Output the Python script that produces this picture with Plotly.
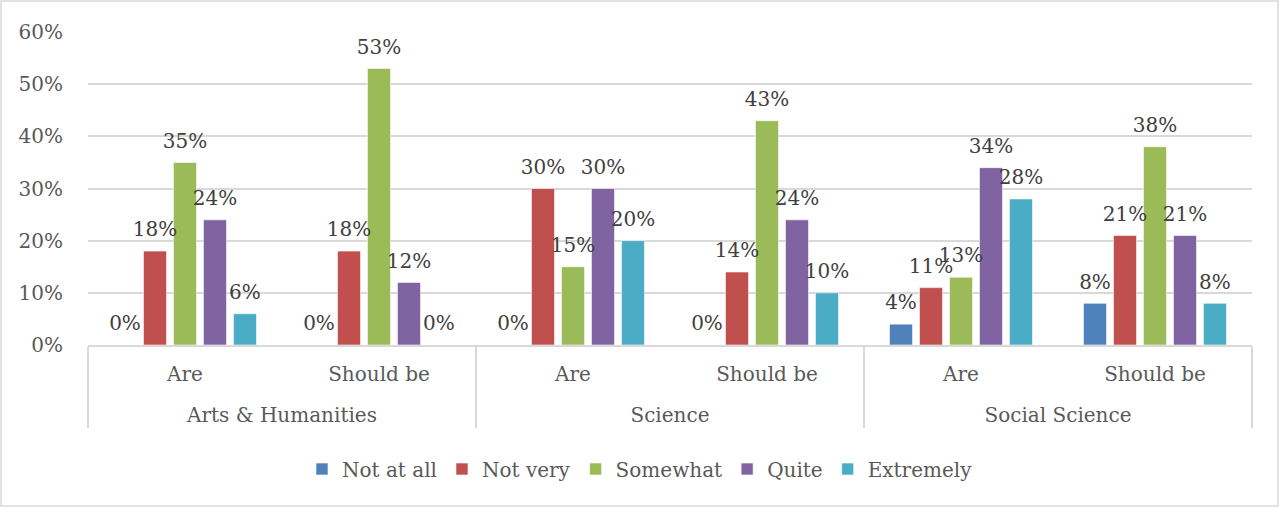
import plotly.graph_objects as go

# Survey responses, percent of respondents
disciplines = ["Arts & Humanities", "Arts & Humanities", "Science", "Science",
               "Social Science", "Social Science"]
framings = ["Are", "Should be", "Are", "Should be", "Are", "Should be"]

not_at_all = [0, 0, 0, 0, 4, 8]
not_very = [18, 18, 30, 14, 11, 21]
somewhat = [35, 53, 15, 43, 13, 38]
quite = [24, 12, 30, 24, 34, 21]
extremely = [6, 0, 20, 10, 28, 8]

series_names = ["Not at all", "Not very", "Somewhat", "Quite", "Extremely"]
series_values = [not_at_all, not_very, somewhat, quite, extremely]
series_colors = ["#4F81BD", "#C0504D", "#9BBB59", "#8064A2", "#4BACC6"]

y_ticks = [0, 10, 20, 30, 40, 50, 60]

FONT = "DejaVu Serif"
AXIS_GREY = "#595959"
LABEL_GREY = "#404040"
GRID_GREY = "#D9D9D9"
BAR_GAP = 0.227

# inner-level labels get a short blank second line so the outer level sits lower
framing_labels = [f + "<br><span style='font-size:19px'>\u00a0</span>" for f in framings]
x_cats = [disciplines, framing_labels]

fig = go.Figure()
for name, vals, color in zip(series_names, series_values, series_colors):
    fig.add_trace(go.Bar(
        name=name,
        x=x_cats,
        y=vals,
        marker=dict(color=color, line=dict(color="rgba(255,255,255,0.6)", width=1)),
        hoverinfo="skip",
    ))

# value labels, grouped alongside the bars; the hidden marker lifts the text
for name, vals in zip(series_names, series_values):
    fig.add_trace(go.Scatter(
        x=x_cats,
        y=vals,
        mode="markers+text",
        text=[f"{v}%" for v in vals],
        textposition="top center",
        textfont=dict(family=FONT, size=20, color=LABEL_GREY),
        marker=dict(size=14, opacity=0),
        offsetgroup=name,
        alignmentgroup="labels",
        cliponaxis=False,
        showlegend=False,
        hoverinfo="skip",
    ))

# plot area spans x 88..1252, y 32..345 within a 1280x508 canvas
L, R, T, B = 88, 28, 32, 163
W, H = 1280, 508
pw, ph = W - L - R, H - T - B

fig.update_layout(
    width=W, height=H,
    margin=dict(l=L, r=R, t=T, b=B),
    paper_bgcolor="white",
    plot_bgcolor="white",
    barmode="group",
    bargap=BAR_GAP,
    bargroupgap=0.23,
    scattermode="group",
    scattergap=BAR_GAP,
    font=dict(family=FONT, size=20, color=AXIS_GREY),
    showlegend=True,
    legend=dict(
        orientation="h",
        x=(640 - L) / pw, xanchor="center",
        y=(T + ph - 469) / ph, yanchor="middle",
        font=dict(family=FONT, size=20, color=AXIS_GREY),
        bgcolor="rgba(0,0,0,0)",
        itemwidth=30,
    ),
    xaxis=dict(
        type="multicategory",
        showgrid=False,
        showline=True,
        linecolor=GRID_GREY,
        linewidth=1.5,
        showdividers=True,
        dividercolor=GRID_GREY,
        dividerwidth=2,
        ticks="",
        ticklabelstandoff=10,
        tickfont=dict(family=FONT, size=20, color=AXIS_GREY),
    ),
    yaxis=dict(
        range=[0, 60],
        tickvals=y_ticks,
        ticktext=[f"{t}%" for t in y_ticks],
        showgrid=True,
        gridcolor=GRID_GREY,
        gridwidth=1.5,
        zeroline=False,
        showline=False,
        ticks="outside",
        ticklen=20,
        tickcolor="rgba(0,0,0,0)",
        tickfont=dict(family=FONT, size=20, color=AXIS_GREY),
    ),
)

# thin outer chart frame
fig.add_shape(
    type="rect", xref="paper", yref="paper",
    x0=(1 - L) / pw, x1=(W - 2 - L) / pw,
    y0=-(H - 2 - T - ph) / ph, y1=(ph + T - 1) / ph,
    line=dict(color=GRID_GREY, width=1.5),
    fillcolor="rgba(0,0,0,0)",
    layer="below",
)

fig.write_html("out.html")
